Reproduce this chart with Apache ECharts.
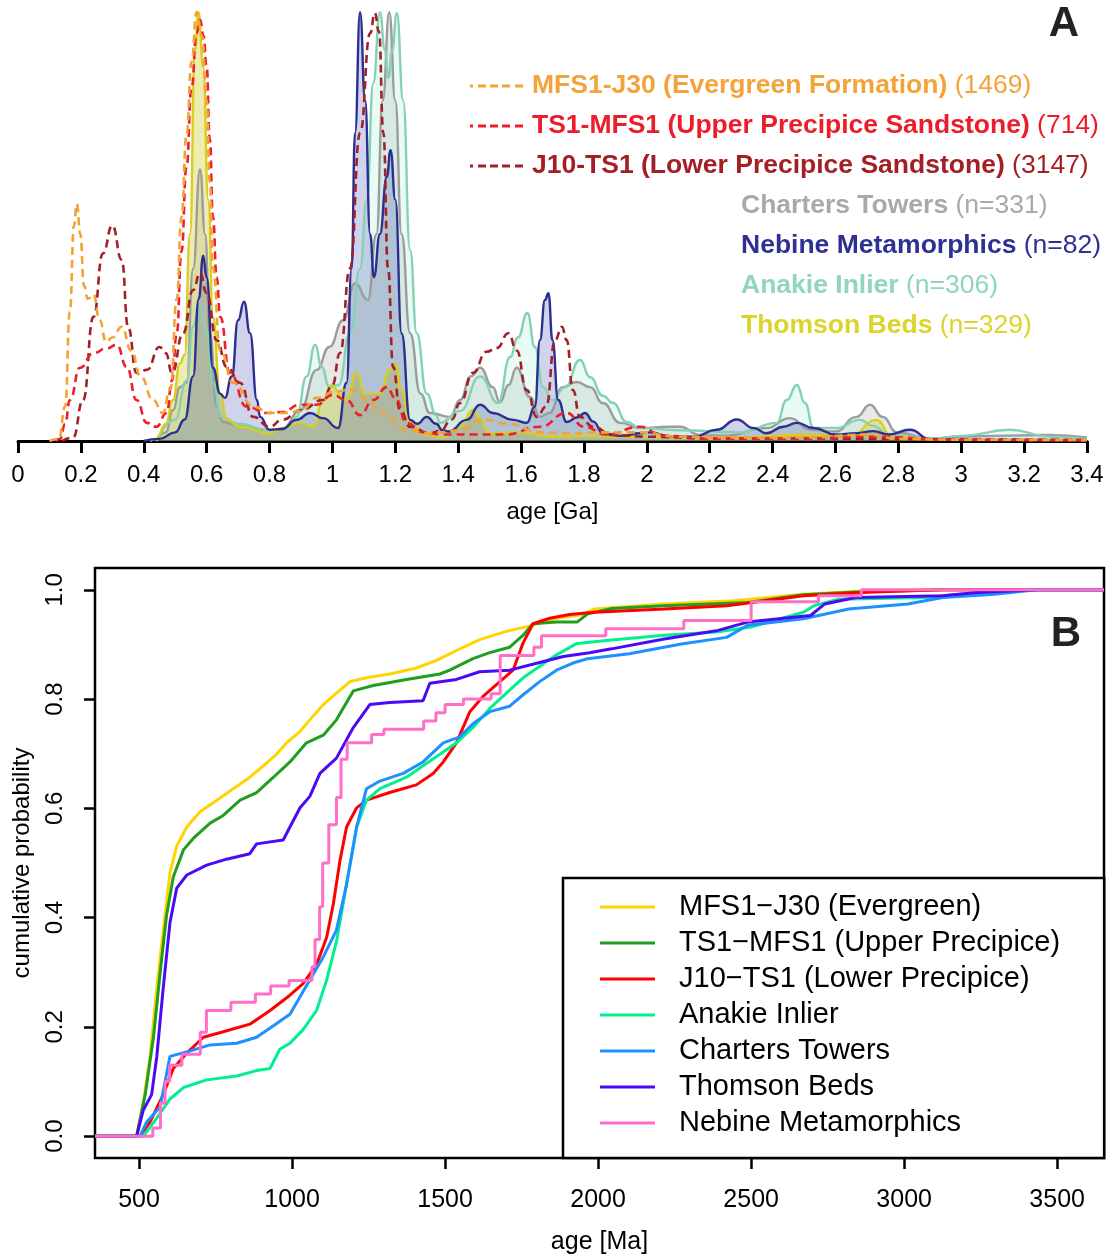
<!DOCTYPE html>
<html>
<head>
<meta charset="utf-8">
<title>Detrital zircon age spectra</title>
<script src="https://cdn.jsdelivr.net/npm/echarts@6.0.0/dist/echarts.min.js"></script>
<style>
    html, body { margin: 0; padding: 0; background: #fff; }
    #chart { width: 1107px; height: 1256px; }
</style>
</head>
<body>
<div id="chart"></div>
<script>
// ---- panel A : kernel density estimates, x in Ga, height scaled to 100 ----
const kdeMfs1 = [[0.10,0],[0.13,0.5],[0.15,8],[0.165,30],[0.178,50],[0.187,55],[0.198,48],[0.21,36],[0.222,33],[0.24,34],[0.26,28],[0.28,23],[0.30,24],[0.33,26.5],[0.36,21],[0.39,15],[0.43,9.5],[0.46,6.5],[0.485,12],[0.505,33],[0.52,52],[0.536,71],[0.552,88],[0.568,99.5],[0.585,94],[0.60,79],[0.61,60],[0.62,40],[0.643,21],[0.685,13.5],[0.75,8],[0.80,6.5],[0.85,6.5],[0.90,7],[0.95,10],[1.01,11.5],[1.065,12],[1.11,9.5],[1.16,6.5],[1.236,2.6],[1.30,1.8],[1.342,2],[1.406,2.5],[1.48,5],[1.555,4],[1.66,2],[1.765,1.8],[1.87,2],[1.98,2],[2.1,1],[2.3,0.8],[2.5,0.8],[2.7,1.5],[2.8,0.5],[3.0,0.3],[3.4,0.2]];
const kdeTs1 = [[0.12,0],[0.134,0.5],[0.15,4],[0.165,9.5],[0.197,17],[0.24,20.4],[0.282,21.5],[0.314,22.3],[0.346,17.2],[0.377,9.5],[0.41,4.2],[0.44,3.3],[0.473,6.5],[0.49,14],[0.505,25],[0.52,44],[0.536,63.6],[0.552,82],[0.568,94.6],[0.579,97.7],[0.59,94],[0.60,86.8],[0.61,70],[0.62,52],[0.632,38],[0.643,28.8],[0.674,15.8],[0.727,8],[0.79,6.5],[0.84,6.7],[0.897,8.4],[0.95,8.4],[1.0,10.7],[1.045,9.5],[1.088,6],[1.13,9.5],[1.173,12.5],[1.2,10],[1.236,4.2],[1.29,2],[1.35,1.5],[1.45,1.5],[1.55,1.5],[1.66,3.3],[1.745,6.5],[1.80,3.3],[1.87,1.5],[1.98,3.3],[2.05,1.2],[2.2,0.6],[2.5,0.6],[2.7,1],[3.0,0.3],[3.4,0.2]];
const kdeJ10 = [[0.14,0],[0.175,0.8],[0.207,9.5],[0.24,28.8],[0.27,43.5],[0.30,50],[0.33,42],[0.35,26.5],[0.377,15.8],[0.41,16.5],[0.45,21.8],[0.47,20.4],[0.49,15.8],[0.525,25],[0.557,35],[0.579,39],[0.60,34.3],[0.632,23.4],[0.664,17.2],[0.706,13.5],[0.748,5.6],[0.80,3.3],[0.84,4.9],[0.90,7.2],[0.97,9.5],[1.0,13],[1.024,20.4],[1.056,40],[1.088,71.5],[1.12,94.6],[1.135,99.3],[1.148,95],[1.162,71.5],[1.177,40],[1.193,17.2],[1.215,7.2],[1.247,3.3],[1.31,1.8],[1.342,2.3],[1.38,5],[1.406,8.8],[1.447,15.8],[1.49,20.7],[1.523,21.6],[1.56,25],[1.586,21],[1.618,11.8],[1.65,5.6],[1.68,8],[1.708,23.4],[1.73,26.5],[1.745,23.4],[1.765,11.8],[1.787,5.6],[1.83,3.3],[1.89,1.4],[2.0,1],[2.2,0.6],[2.5,0.6],[2.8,0.4],[3.4,0.2]];
const kdeCharters = [[0.44,0],[0.47,2],[0.493,7.2],[0.515,12.5],[0.536,13.5],[0.557,40],[0.579,63],[0.595,48],[0.61,25],[0.632,8],[0.652,4.4],[0.70,3.5],[0.80,2.5],[0.84,2.8],[0.897,7],[0.95,16.5],[0.99,21.8],[1.034,28],[1.072,36.6],[1.113,32.7],[1.14,48],[1.16,79],[1.181,99.5],[1.2,79],[1.22,48],[1.247,25],[1.28,11],[1.31,6.5],[1.374,5.6],[1.406,9.5],[1.44,15],[1.47,17],[1.51,12.5],[1.533,9],[1.56,13],[1.586,17],[1.628,10.2],[1.66,5.6],[1.69,6.5],[1.733,12.5],[1.777,13.7],[1.82,12.5],[1.86,8.8],[1.915,4.2],[1.98,3],[2.07,3.3],[2.105,3.3],[2.17,1.4],[2.25,1.2],[2.38,3],[2.455,5.3],[2.52,2.6],[2.6,2.2],[2.667,5.6],[2.71,8.4],[2.75,5.6],[2.795,2],[2.9,0.5],[3.0,1],[3.1,1.2],[3.28,1.4],[3.4,0.8]];
const kdeNebine = [[0.40,0],[0.45,0.5],[0.5,2],[0.53,5],[0.557,15],[0.575,33],[0.589,43],[0.60,38],[0.62,17],[0.643,11],[0.658,10],[0.68,15],[0.70,28],[0.719,32.3],[0.738,25],[0.76,9.5],[0.77,5.6],[0.80,2.6],[0.84,2.8],[0.886,4.9],[0.929,6.5],[0.97,5.3],[1.018,3],[1.045,13.5],[1.061,40],[1.072,71.5],[1.088,99.5],[1.104,79],[1.12,48],[1.132,38],[1.151,48],[1.173,61.3],[1.185,67.5],[1.2,56],[1.22,25],[1.247,4.9],[1.27,4],[1.30,5.6],[1.33,4],[1.35,2.5],[1.37,2.2],[1.427,4.9],[1.47,8.4],[1.51,6.5],[1.575,4.9],[1.618,4.2],[1.644,8],[1.66,23.4],[1.676,32.7],[1.687,34.3],[1.70,23.4],[1.718,9.5],[1.745,4.4],[1.78,5.5],[1.803,6.5],[1.83,4.5],[1.86,1.8],[1.92,1.2],[1.98,1.8],[2.01,2],[2.08,1],[2.15,1],[2.222,2.6],[2.286,5],[2.34,3],[2.38,1.8],[2.435,3.3],[2.477,4.2],[2.53,3],[2.6,1.5],[2.667,1.8],[2.72,2.3],[2.77,1.5],[2.837,2.6],[2.9,0.5],[3.0,0.2],[3.4,0.1]];
const kdeAnakie = [[0.44,0],[0.5,5],[0.536,14],[0.557,26.5],[0.576,31.5],[0.60,25],[0.62,13.5],[0.648,5.6],[0.70,4],[0.80,2.5],[0.86,3],[0.886,5.6],[0.918,15],[0.945,22.3],[0.966,17.2],[0.99,12.5],[1.02,13],[1.056,25],[1.088,40],[1.109,56],[1.13,83],[1.151,99.5],[1.167,90.7],[1.178,84.2],[1.19,90.7],[1.205,99.3],[1.225,79],[1.247,44.3],[1.268,25],[1.30,11],[1.33,6],[1.342,4.2],[1.406,7],[1.47,15],[1.527,8.8],[1.565,19.5],[1.59,24],[1.62,29.7],[1.644,21.8],[1.67,12.5],[1.70,9.5],[1.74,12.5],[1.787,18.8],[1.82,14.8],[1.86,10.5],[1.893,8.8],[1.936,4.4],[1.98,3],[2.1,2.5],[2.3,2],[2.413,4.2],[2.445,9.5],[2.477,13],[2.503,8.8],[2.53,3],[2.6,3],[2.678,4.9],[2.72,3.5],[2.77,1.5],[2.9,0.5],[3.0,1.2],[3.155,2.6],[3.28,1],[3.4,0.5]];
const kdeThomson = [[0.42,0],[0.44,0.5],[0.47,4],[0.493,9.5],[0.515,18],[0.53,20],[0.547,48],[0.563,90.7],[0.574,99.5],[0.589,86.8],[0.605,56],[0.62,28.8],[0.643,11],[0.664,4.9],[0.706,3.3],[0.80,1.8],[0.84,3],[0.897,4.2],[0.94,3.3],[0.97,9.5],[0.998,13],[1.024,11],[1.045,9.5],[1.077,15.8],[1.104,11],[1.15,11],[1.183,16.5],[1.2,18],[1.22,11.8],[1.247,4.2],[1.30,1.5],[1.35,0.8],[1.406,3.3],[1.447,7.2],[1.47,5],[1.50,1.8],[1.6,2],[1.7,1],[1.8,1.2],[1.95,1],[2.1,0.8],[2.3,0.8],[2.5,1.5],[2.65,1.2],[2.73,4.9],[2.78,1],[2.9,0.4],[3.4,0.2]];

const kdeNames = ['MFS1-J30 (Evergreen Formation)', 'TS1-MFS1 (Upper Precipice Sandstone)', 'J10-TS1 (Lower Precipice Sandstone)',
    'Charters Towers', 'Nebine Metamorphics', 'Anakie Inlier', 'Thomson Beds'];
const kdeCounts = ['(1469)', '(714)', '(3147)', '(n=331)', '(n=82)', '(n=306)', '(n=329)'];

// ---- panel B : cumulative age distributions, x in Ma ----
const cdfMfs1 = [[356,0],[492,0],[514,0.062],[536,0.146],[558,0.272],[579,0.377],[601,0.482],[623,0.531],[656,0.566],[699,0.594],[754,0.615],[808,0.636],[862,0.657],[906,0.678],[949,0.699],[982,0.720],[1026,0.741],[1058,0.762],[1102,0.790],[1145,0.811],[1189,0.832],[1243,0.839],[1319,0.846],[1406,0.857],[1472,0.871],[1537,0.889],[1613,0.909],[1700,0.924],[1777,0.934],[1864,0.948],[1951,0.955],[1988,0.965],[2216,0.974],[2443,0.980],[2671,0.992],[2898,0.999],[3126,1.0],[3653,1.0]];
const cdfTs1 = [[356,0],[492,0],[520,0.076],[547,0.181],[569,0.300],[590,0.405],[612,0.475],[645,0.524],[677,0.545],[732,0.573],[775,0.587],[830,0.615],[884,0.629],[939,0.657],[993,0.685],[1047,0.720],[1102,0.734],[1145,0.762],[1200,0.815],[1265,0.825],[1374,0.836],[1483,0.846],[1515,0.853],[1591,0.874],[1646,0.885],[1711,0.895],[1755,0.917],[1787,0.938],[1864,0.941],[1931,0.941],[1966,0.956],[2044,0.966],[2216,0.971],[2489,0.977],[2671,0.991],[2841,0.996],[3125,1.0],[3653,1.0]];
const cdfJ10 = [[356,0],[503,0],[536,0.026],[579,0.076],[612,0.124],[656,0.152],[710,0.181],[775,0.191],[862,0.205],[928,0.230],[993,0.258],[1036,0.279],[1080,0.314],[1113,0.364],[1135,0.426],[1156,0.503],[1178,0.566],[1211,0.601],[1243,0.615],[1319,0.629],[1406,0.643],[1461,0.664],[1494,0.685],[1537,0.720],[1581,0.777],[1624,0.805],[1679,0.832],[1722,0.853],[1755,0.903],[1787,0.938],[1842,0.948],[1907,0.955],[1988,0.959],[2216,0.965],[2421,0.971],[2671,0.989],[2898,0.996],[3126,1.0],[3653,1.0]];
const cdfAnakie = [[356,0],[514,0],[558,0.033],[601,0.068],[645,0.089],[721,0.103],[819,0.110],[884,0.120],[928,0.124],[960,0.159],[993,0.170],[1036,0.195],[1080,0.230],[1113,0.286],[1145,0.356],[1178,0.461],[1211,0.566],[1243,0.615],[1287,0.636],[1374,0.657],[1428,0.678],[1483,0.699],[1537,0.720],[1591,0.748],[1646,0.783],[1700,0.811],[1755,0.839],[1809,0.860],[1864,0.881],[1931,0.902],[2044,0.908],[2216,0.917],[2386,0.923],[2500,0.932],[2671,0.959],[2705,0.971],[2785,0.983],[3069,0.986],[3182,0.992],[3410,1.0],[3653,1.0]];
const cdfCharters = [[356,0],[503,0],[525,0.026],[569,0.054],[585,0.10],[601,0.146],[667,0.156],[732,0.167],[819,0.170],[884,0.181],[939,0.202],[993,0.223],[1036,0.265],[1058,0.286],[1102,0.328],[1145,0.377],[1178,0.461],[1211,0.566],[1243,0.636],[1287,0.650],[1363,0.664],[1428,0.685],[1494,0.720],[1548,0.731],[1591,0.755],[1646,0.777],[1711,0.787],[1755,0.808],[1809,0.832],[1864,0.853],[1918,0.866],[1966,0.874],[2102,0.883],[2272,0.901],[2420,0.913],[2488,0.935],[2671,0.947],[2819,0.965],[3012,0.974],[3126,0.986],[3296,0.992],[3432,1.0],[3653,1.0]];
const cdfThomson = [[356,0],[492,0],[514,0.048],[541,0.076],[558,0.146],[579,0.272],[601,0.391],[623,0.454],[656,0.478],[721,0.496],[786,0.507],[862,0.517],[884,0.535],[971,0.542],[993,0.566],[1026,0.601],[1058,0.622],[1091,0.664],[1145,0.692],[1200,0.748],[1254,0.790],[1319,0.794],[1428,0.797],[1450,0.829],[1537,0.836],[1613,0.850],[1711,0.853],[1809,0.867],[1886,0.878],[1972,0.885],[2044,0.892],[2216,0.910],[2386,0.925],[2488,0.941],[2694,0.953],[2740,0.974],[2842,0.986],[3126,0.989],[3239,0.995],[3432,1.0],[3653,1.0]];
const cdfNebine = [[356,0],[545,0],[545,0.015],[570,0.015],[570,0.06],[585,0.06],[585,0.10],[600,0.10],[600,0.13],[640,0.13],[640,0.15],[700,0.15],[700,0.19],[720,0.19],[720,0.23],[800,0.23],[800,0.245],[880,0.245],[880,0.26],[930,0.26],[930,0.275],[990,0.275],[990,0.285],[1065,0.285],[1065,0.31],[1075,0.31],[1075,0.36],[1090,0.36],[1090,0.42],[1100,0.42],[1100,0.5],[1120,0.5],[1120,0.57],[1145,0.57],[1145,0.62],[1160,0.62],[1160,0.69],[1180,0.69],[1180,0.72],[1260,0.72],[1260,0.735],[1300,0.735],[1300,0.745],[1430,0.745],[1430,0.76],[1470,0.76],[1470,0.775],[1500,0.775],[1500,0.79],[1560,0.79],[1560,0.80],[1650,0.80],[1650,0.81],[1680,0.81],[1680,0.88],[1790,0.88],[1790,0.895],[1815,0.895],[1815,0.916],[2025,0.916],[2025,0.929],[2280,0.929],[2280,0.944],[2500,0.944],[2500,0.978],[2720,0.978],[2720,0.989],[2860,0.989],[2860,1.0],[3653,1.0]];

const cdfNames = ['MFS1\u2212J30 (Evergreen)', 'TS1\u2212MFS1 (Upper Precipice)', 'J10\u2212TS1 (Lower Precipice)',
    'Anakie Inlier', 'Charters Towers', 'Thomson Beds', 'Nebine Metamorphics'];
const cdfTicksX = [500, 1000, 1500, 2000, 2500, 3000, 3500];
const cdfTicksY = [0, 0.2, 0.4, 0.6, 0.8, 1.0];

const font = 'Liberation Sans, Arial, sans-serif';

// colours
const kdeLine = ['#f4a232', '#ee1f2b', '#a3202a', '#9c9c9c', '#2b2f8f', '#86d1b6', '#d6ce22'];
const kdeText = ['#f4a33a', '#ed1c2a', '#a31f24', '#a9a9a9', '#2e3192', '#8fd6bc', '#dcd42a'];
const kdeFill = [null, null, null, 'rgba(140,140,140,0.20)', 'rgba(60,70,170,0.24)', 'rgba(150,235,205,0.22)', 'rgba(210,200,35,0.35)'];
const cdfColors = ['#ffd400', '#1f9e1f', '#ff0000', '#00f090', '#1e90ff', '#4a0af5', '#ff6ec7'];

const kdeData = [kdeMfs1, kdeTs1, kdeJ10, kdeCharters, kdeNebine, kdeAnakie, kdeThomson];
const cdfData = [cdfMfs1, cdfTs1, cdfJ10, cdfAnakie, cdfCharters, cdfThomson, cdfNebine];

const rich = {};
kdeNames.forEach((n, i) => {
    rich['b' + i] = { fontFamily: font, fontSize: 26.5, fontWeight: 'bold', color: kdeText[i], lineHeight: 40 };
    rich['n' + i] = { fontFamily: font, fontSize: 26.5, fontWeight: 'normal', color: kdeText[i], lineHeight: 40 };
});
const kdeFormatter = function (name) {
    const i = kdeNames.indexOf(name);
    return '{b' + i + '|' + name + '}{n' + i + '| ' + kdeCounts[i] + '}';
};

const dashIcon = 'path://M0,0h3v3h-3z M8,0h8v3h-8z M20,0h8v3h-8z M32,0h8v3h-8z M45,0h8v3h-8z';

const series = [];
// filled curves first, then the dashed ones on top
[3, 5, 6, 4, 2, 1, 0].forEach(i => {
    const s = {
        name: kdeNames[i],
        type: 'line',
        xAxisIndex: 0,
        yAxisIndex: 0,
        data: kdeData[i],
        smooth: 0.5,
        smoothMonotone: 'x',
        showSymbol: false,
        symbol: 'none',
        silent: true,
        itemStyle: { color: kdeLine[i] },
        lineStyle: { color: kdeLine[i], width: i < 3 ? 2.6 : 2.4, type: i < 3 ? [8, 5] : 'solid' }
    };
    if (kdeFill[i]) {
        s.areaStyle = { color: kdeFill[i], opacity: 1 };
    }
    series.push(s);
});
cdfNames.forEach((n, i) => {
    series.push({
        name: n,
        type: 'line',
        xAxisIndex: 1,
        yAxisIndex: 1,
        data: cdfData[i],
        showSymbol: false,
        symbol: 'none',
        silent: true,
        itemStyle: { color: cdfColors[i] },
        lineStyle: { color: cdfColors[i], width: 3 }
    });
});

const option = {
    animation: false,
    backgroundColor: '#fff',
    textStyle: { fontFamily: font },
    grid: [
        { left: 18, right: 20, top: 10, bottom: 815, show: false },
        { left: 95, right: 3, top: 568, bottom: 98, show: true, borderColor: '#000', borderWidth: 2.5, backgroundColor: 'transparent' }
    ],
    xAxis: [
        {
            gridIndex: 0,
            type: 'value',
            min: 0,
            max: 3.4,
            interval: 0.2,
            name: 'age [Ga]',
            nameLocation: 'middle',
            nameGap: 59,
            nameTextStyle: { fontFamily: font, fontSize: 24, color: '#000' },
            axisLine: { show: true, onZero: false, lineStyle: { color: '#000', width: 3 } },
            axisTick: { show: true, inside: false, length: 12, lineStyle: { color: '#000', width: 3 } },
            axisLabel: {
                margin: 22,
                fontFamily: font,
                fontSize: 24,
                color: '#000',
                formatter: v => String(parseFloat(v.toFixed(1)))
            },
            splitLine: { show: false }
        },
        {
            gridIndex: 1,
            type: 'value',
            min: 356,
            max: 3653,
            name: 'age [Ma]',
            nameLocation: 'middle',
            nameGap: 72,
            nameTextStyle: { fontFamily: font, fontSize: 25, color: '#000' },
            axisLine: { show: false, onZero: false },
            axisTick: { show: true, inside: false, length: 11, customValues: cdfTicksX, lineStyle: { color: '#000', width: 2.5 } },
            axisLabel: { margin: 30, fontFamily: font, fontSize: 25, color: '#000', customValues: cdfTicksX, formatter: v => String(v) },
            splitLine: { show: false }
        }
    ],
    yAxis: [
        { gridIndex: 0, type: 'value', min: 0, max: 100, show: false },
        {
            gridIndex: 1,
            type: 'value',
            min: -0.04,
            max: 1.04,
            name: 'cumulative probability',
            nameLocation: 'middle',
            nameRotate: 90,
            nameGap: 61,
            nameTextStyle: { fontFamily: font, fontSize: 24, color: '#000' },
            axisLine: { show: false, onZero: false },
            axisTick: { show: true, inside: false, length: 11, customValues: cdfTicksY, lineStyle: { color: '#000', width: 2.5 } },
            axisLabel: {
                margin: 28,
                rotate: 90,
                fontFamily: font,
                fontSize: 24,
                color: '#000',
                customValues: cdfTicksY,
                formatter: v => v.toFixed(1)
            },
            splitLine: { show: false }
        }
    ],
    legend: [
        {
            // dashed-line legend of panel A
            left: 470,
            top: 66,
            orient: 'vertical',
            padding: 0,
            itemGap: 0,
            itemWidth: 53,
            itemHeight: 3,
            selectedMode: false,
            data: kdeNames.slice(0, 3).map((n, i) => ({ name: n, icon: dashIcon, itemStyle: { color: kdeLine[i], borderWidth: 0 } })),
            formatter: kdeFormatter,
            textStyle: { rich: rich, fontSize: 26.5, lineHeight: 40, padding: [0, 0, 0, 4] }
        },
        {
            left: 736,
            top: 186,
            orient: 'vertical',
            padding: 0,
            itemGap: 0,
            itemWidth: 0,
            itemHeight: 3,
            selectedMode: false,
            data: kdeNames.slice(3).map(n => ({ name: n, icon: 'none' })),
            formatter: kdeFormatter,
            textStyle: { rich: rich, fontSize: 26.5, lineHeight: 40 }
        },
        {
            // legend box of panel B
            left: 563,
            top: 878,
            orient: 'vertical',
            padding: [11, 44, 17, 37],
            itemGap: 0,
            itemWidth: 55,
            itemHeight: 3,
            selectedMode: false,
            backgroundColor: '#fff',
            borderColor: '#000',
            borderWidth: 2.5,
            borderRadius: 0,
            data: cdfNames.map((n, i) => ({ name: n, icon: 'rect', itemStyle: { color: cdfColors[i], borderWidth: 0 } })),
            textStyle: { fontFamily: font, fontSize: 29, lineHeight: 36, color: '#000', padding: [0, 0, 0, 19] }
        }
    ],
    graphic: [
        { type: 'text', x: 1064, y: 24, style: { text: 'A', fontFamily: font, fontSize: 42, fontWeight: 'bold', fill: '#222', align: 'center', verticalAlign: 'middle' } },
        { type: 'text', x: 1066, y: 634, style: { text: 'B', fontFamily: font, fontSize: 42, fontWeight: 'bold', fill: '#222', align: 'center', verticalAlign: 'middle' } }
    ],
    series: series
};

const myChart = echarts.init(document.getElementById('chart'), null, { renderer: 'canvas' });
myChart.setOption(option);
</script>
</body>
</html>
